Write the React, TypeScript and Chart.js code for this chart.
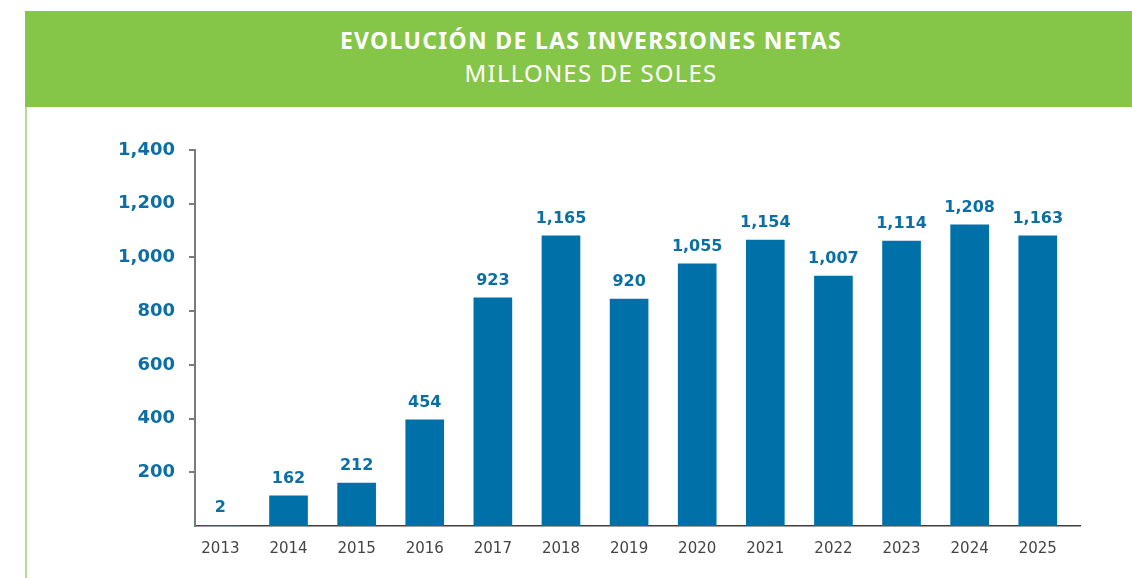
import React, { useEffect, useRef } from 'react';
import { Chart, registerables } from 'chart.js';

Chart.register(...registerables);

// ---- data ----
const years = [2013, 2014, 2015, 2016, 2017, 2018, 2019, 2020, 2021, 2022, 2023, 2024, 2025];
// bar heights as drawn in the picture (read against the y axis)
const barHeights = [2, 112, 160, 395, 850, 1080, 845, 976, 1065, 931, 1061, 1121, 1080];
// value labels printed above the bars
const valueLabels = ['2', '162', '212', '454', '923', '1,165', '920', '1,055', '1,154', '1,007', '1,114', '1,208', '1,163'];
const yTickValues = [200, 400, 600, 800, 1000, 1200, 1400];
const titleText = 'EVOLUCIÓN DE LAS INVERSIONES NETAS';
const subtitleText = 'MILLONES DE SOLES';

const BAR_BLUE = '#0070a8';
const TEXT_BLUE = '#0b6fa6';
const GREEN = '#85c548';

const fmt = (v: number) => String(v).replace(/\B(?=(\d{3})+(?!\d))/g, ',');

const valueLabelPlugin = {
  id: 'valueLabels',
  afterDatasetsDraw(chart: any) {
    const { ctx, chartArea } = chart;
    const meta = chart.getDatasetMeta(0);
    ctx.save();
    ctx.font = 'bold 16px "DejaVu Sans"';
    ctx.fillStyle = TEXT_BLUE;
    ctx.textAlign = 'center';
    ctx.textBaseline = 'alphabetic';
    meta.data.forEach((bar: any, i: number) => {
      const y = Math.min(bar.y - 13, chartArea.bottom - 10);
      ctx.fillText(valueLabels[i], bar.x, y);
    });
    ctx.restore();
  },
};

export default function App() {
  const canvasRef = useRef<HTMLCanvasElement | null>(null);

  useEffect(() => {
    if (!canvasRef.current) return;
    const chart = new Chart(canvasRef.current, {
      type: 'bar',
      data: {
        datasets: [
          {
            data: years.map((yr, i) => ({ x: yr, y: barHeights[i] })),
            backgroundColor: BAR_BLUE,
            barThickness: 38,
          } as any,
        ],
      },
      options: {
        animation: false,
        responsive: false,
        layout: { padding: { top: 150, right: 52, bottom: 0, left: 0 } },
        plugins: {
          legend: { display: false },
          tooltip: { enabled: false },
          title: { display: false },
        },
        scales: {
          x: {
            type: 'linear',
            offset: false,
            min: 2012.627,
            max: 2025.62,
            afterBuildTicks: (s: any) => {
              s.ticks = years.map((v) => ({ value: v }));
            },
            afterFit: (s: any) => {
              s.height = 52;
            },
            ticks: {
              callback: (v: any) => String(v),
              autoSkip: false,
              maxRotation: 0,
              padding: 14,
              color: '#444444',
              font: { family: 'DejaVu Sans', size: 15 },
            },
            grid: { display: false, drawTicks: false },
            border: { color: '#3f3f3f', width: 1.5 },
          },
          y: {
            min: 0,
            max: 1400,
            afterBuildTicks: (s: any) => {
              s.ticks = yTickValues.map((v) => ({ value: v }));
            },
            afterFit: (s: any) => {
              s.width = 195;
            },
            ticks: {
              callback: (v: any) => fmt(Number(v)),
              padding: 14,
              color: TEXT_BLUE,
              font: { family: 'DejaVu Sans', size: 18, weight: 'bold' },
            },
            grid: { drawOnChartArea: false, color: '#7a7a7a', lineWidth: 2, tickLength: 6 },
            border: { color: '#7a7a7a', width: 2 },
          },
        },
      } as any,
      plugins: [valueLabelPlugin],
    });
    return () => chart.destroy();
  }, []);

  return (
    <div style={{ position: 'absolute', left: 0, top: 0, width: 1132, height: 578, overflow: 'hidden', background: '#ffffff' }}>
      <canvas ref={canvasRef} width={1132} height={578} style={{ position: 'absolute', left: 0, top: 0, width: 1132, height: 578 }} />
      <div style={{ position: 'absolute', left: 25, top: 11, width: 1107, height: 96, background: GREEN }} />
      <div style={{ position: 'absolute', left: 25, top: 107, width: 2, height: 471, background: '#b3dc8f' }} />
      <div
        style={{
          position: 'absolute', left: 50, width: 1082, top: 26, textAlign: 'center', color: '#ffffff',
          fontFamily: '"Noto Sans", sans-serif', fontWeight: 700, fontSize: 23, letterSpacing: '1.3px',
          lineHeight: '28px', whiteSpace: 'nowrap',
        }}
      >
        {titleText}
      </div>
      <div
        style={{
          position: 'absolute', left: 50, width: 1082, top: 59, textAlign: 'center', color: '#ffffff',
          fontFamily: '"Noto Sans", sans-serif', fontWeight: 400, fontSize: 24, letterSpacing: '1.2px',
          lineHeight: '28px', whiteSpace: 'nowrap',
        }}
      >
        {subtitleText}
      </div>
    </div>
  );
}
